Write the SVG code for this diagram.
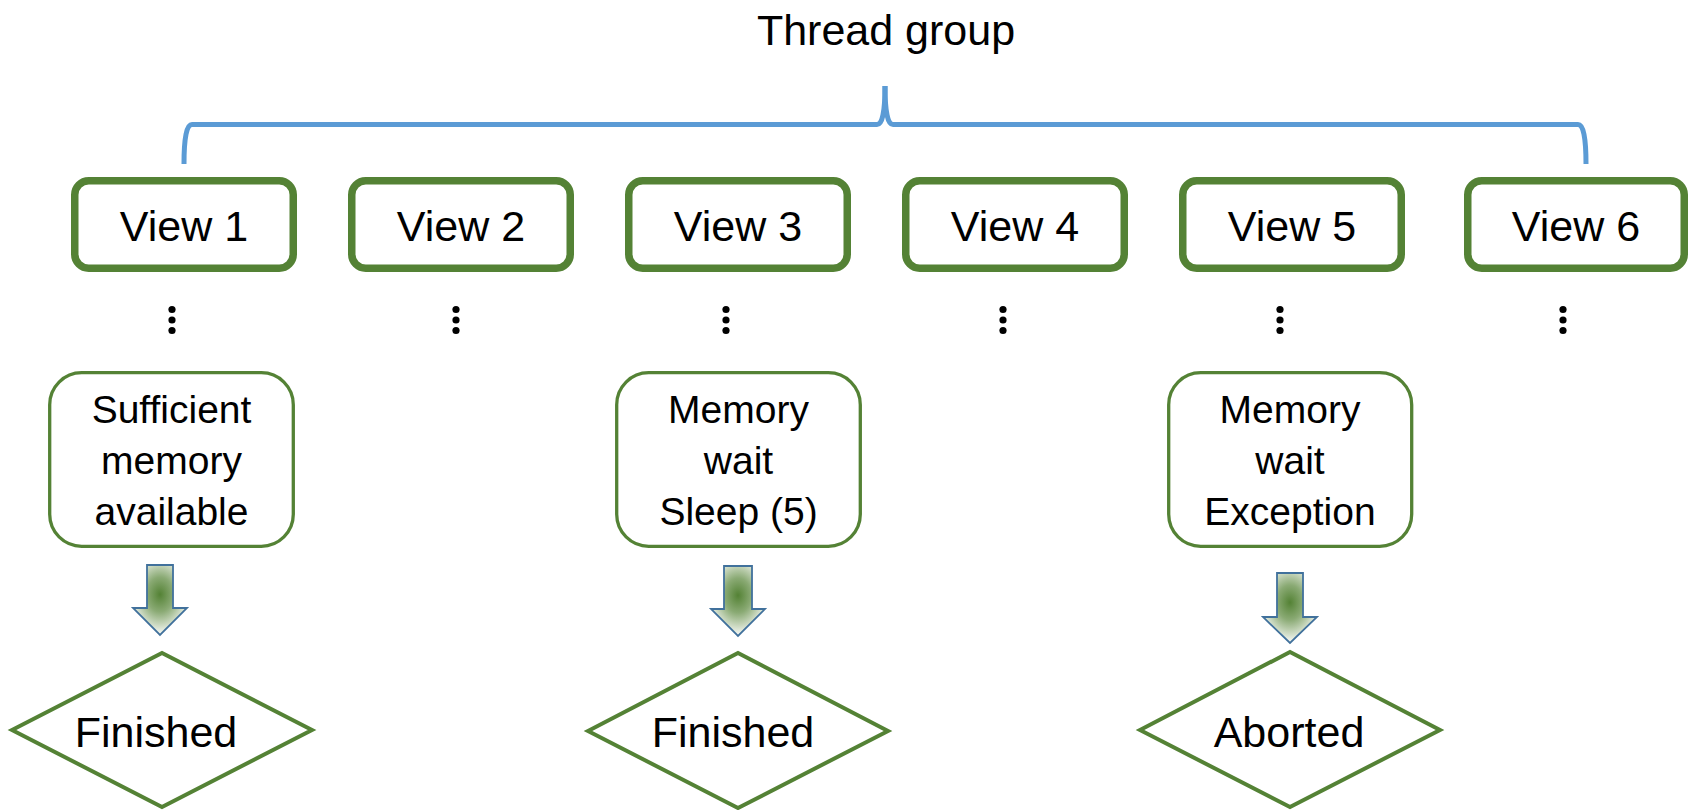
<svg xmlns="http://www.w3.org/2000/svg" width="1688" height="810" viewBox="0 0 1688 810">
  <defs>
    <radialGradient id="arrowFill" cx="0.5" cy="0.42" r="0.55">
      <stop offset="0" stop-color="#548235"/>
      <stop offset="0.45" stop-color="#8aaa74"/>
      <stop offset="1" stop-color="#f2f5ef"/>
    </radialGradient>
    <style>
      text { font-family: "Liberation Sans", Arial, sans-serif; fill: #000; text-anchor: middle; }
      .title { font-size: 43px; }
      .view rect { fill: #fff; stroke: #548235; stroke-width: 7.5; }
      .view text { font-size: 43px; }
      .state rect { fill: #fff; stroke: #548235; stroke-width: 3.3; }
      .state text { font-size: 39px; }
      .end polygon { fill: #fff; stroke: #548235; stroke-width: 4; stroke-linejoin: miter; }
      .end text { font-size: 43px; }
      .brace { fill: none; stroke: #5b9bd5; stroke-width: 5; }
      .arrow { fill: url(#arrowFill); stroke: #41719c; stroke-width: 1.8; stroke-linejoin: miter; }
      .dots circle { fill: #000; }
    </style>
  </defs>
  <rect x="0" y="0" width="1688" height="810" fill="#fff"/>

  <text class="title" x="886" y="45">Thread group</text>

  <g id="connectors">
    <path class="brace" d="M184,164 Q184,124.5 192,124.5 L877,124.5 Q885,124.5 885,86"/>
    <path class="brace" d="M1586,164 Q1586,124.5 1578,124.5 L893,124.5 Q885,124.5 885,86"/>
    <g class="dots">
      <circle cx="172" cy="309.5" r="3.6"/><circle cx="172" cy="320" r="3.6"/><circle cx="172" cy="330.5" r="3.6"/>
      <circle cx="456" cy="309.5" r="3.6"/><circle cx="456" cy="320" r="3.6"/><circle cx="456" cy="330.5" r="3.6"/>
      <circle cx="726" cy="309.5" r="3.6"/><circle cx="726" cy="320" r="3.6"/><circle cx="726" cy="330.5" r="3.6"/>
      <circle cx="1003" cy="309.5" r="3.6"/><circle cx="1003" cy="320" r="3.6"/><circle cx="1003" cy="330.5" r="3.6"/>
      <circle cx="1280" cy="309.5" r="3.6"/><circle cx="1280" cy="320" r="3.6"/><circle cx="1280" cy="330.5" r="3.6"/>
      <circle cx="1563" cy="309.5" r="3.6"/><circle cx="1563" cy="320" r="3.6"/><circle cx="1563" cy="330.5" r="3.6"/>
    </g>
    <polygon class="arrow" points="147,565 173,565 173,608 187,608 160,635 133,608 147,608"/>
    <polygon class="arrow" points="724,566 752,566 752,609 765,609 738,636 711,609 724,609"/>
    <polygon class="arrow" points="1277,573 1303,573 1303,617 1317,617 1290,643 1263,617 1277,617"/>
  </g>

  <g id="view1" class="view"><rect x="74.75" y="180.75" width="218.5" height="87.5" rx="14"/><text x="184" y="241">View 1</text></g>
  <g id="view2" class="view"><rect x="351.75" y="180.75" width="218.5" height="87.5" rx="14"/><text x="461" y="241">View 2</text></g>
  <g id="view3" class="view"><rect x="628.75" y="180.75" width="218.5" height="87.5" rx="14"/><text x="738" y="241">View 3</text></g>
  <g id="view4" class="view"><rect x="905.75" y="180.75" width="218.5" height="87.5" rx="14"/><text x="1015" y="241">View 4</text></g>
  <g id="view5" class="view"><rect x="1182.75" y="180.75" width="218.5" height="87.5" rx="14"/><text x="1292" y="241">View 5</text></g>
  <g id="view6" class="view"><rect x="1467.75" y="180.75" width="216.5" height="87.5" rx="14"/><text x="1576" y="241">View 6</text></g>

  <g id="state1" class="state">
    <rect x="49.7" y="372.7" width="243.6" height="173.6" rx="32"/>
    <text x="171.5" y="423">Sufficient</text>
    <text x="171.5" y="474">memory</text>
    <text x="171.5" y="525">available</text>
  </g>
  <g id="state3" class="state">
    <rect x="616.7" y="372.7" width="243.6" height="173.6" rx="32"/>
    <text x="738.5" y="423">Memory</text>
    <text x="738.5" y="474">wait</text>
    <text x="738.5" y="525">Sleep (5)</text>
  </g>
  <g id="state5" class="state">
    <rect x="1168.7" y="372.7" width="243" height="173.6" rx="32"/>
    <text x="1290" y="423">Memory</text>
    <text x="1290" y="474">wait</text>
    <text x="1290" y="525">Exception</text>
  </g>

  <g id="end1" class="end">
    <polygon points="12,730 162,653 312,730 162,807"/>
    <text x="156" y="747">Finished</text>
  </g>
  <g id="end3" class="end">
    <polygon points="588,731 738,653 888,731 738,808"/>
    <text x="733" y="747">Finished</text>
  </g>
  <g id="end5" class="end">
    <polygon points="1140,730 1290,652 1440,730 1290,807"/>
    <text x="1289" y="747">Aborted</text>
  </g>
</svg>
